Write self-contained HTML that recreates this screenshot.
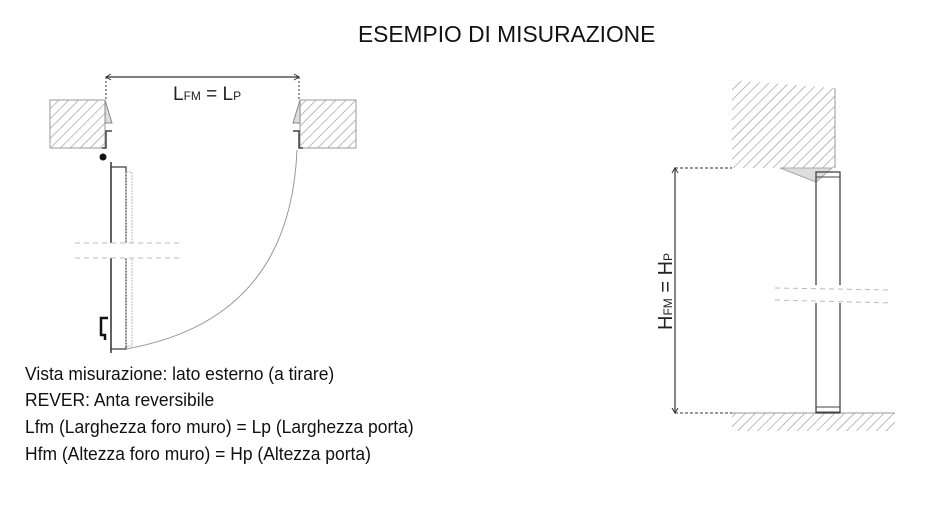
<!DOCTYPE html>
<html><head><meta charset="utf-8"><style>
body{margin:0;background:#fff;width:928px;height:511px;overflow:hidden;font-family:"Liberation Sans",sans-serif}
.t{position:absolute;white-space:nowrap;transform-origin:0 0;color:#111}
</style></head><body>
<svg width="928" height="511" style="position:absolute;left:0;top:0">
<defs>
<pattern id="h" width="7" height="7" patternUnits="userSpaceOnUse" patternTransform="rotate(45)">
<line x1="0" y1="0" x2="0" y2="7" stroke="#999" stroke-width="1.3"/></pattern>
</defs>
<rect x="50" y="100" width="55" height="48" fill="url(#h)" stroke="#999"/>
<rect x="300" y="100" width="56" height="48" fill="url(#h)" stroke="#999"/>
<polygon points="105,100 112,123 105,123" fill="#ddd" stroke="#888"/>
<polygon points="300,100 293,123 300,123" fill="#ddd" stroke="#888"/>
<path d="M112,131 L106,131 L106,148 L102,148" fill="none" stroke="#444" stroke-width="1.5"/>
<path d="M293,131 L299,131 L299,148 L303,148" fill="none" stroke="#444" stroke-width="1.5"/>
<line x1="106" y1="77" x2="299" y2="77" stroke="#333" stroke-width="1.3"/>
<line x1="106" y1="77" x2="106" y2="100" stroke="#333" stroke-dasharray="2,2"/>
<line x1="299" y1="77" x2="299" y2="100" stroke="#333" stroke-dasharray="2,2"/>
<polyline points="111,74 106,77 111,80" fill="none" stroke="#333"/>
<polyline points="294,74 299,77 294,80" fill="none" stroke="#333"/>
<circle cx="103" cy="157" r="3.5" fill="#111"/>
<line x1="111" y1="162" x2="111" y2="353" stroke="#333" stroke-width="1.5"/>
<rect x="111" y="167" width="15" height="182" fill="none" stroke="#444" stroke-width="1.3"/>
<rect x="126" y="172" width="6" height="174" fill="none" stroke="#bbb" stroke-dasharray="2,1"/>
<path d="M108,318 L101,318 L101,335 L105,335 L105,340" fill="none" stroke="#111" stroke-width="2.5"/>
<rect x="75" y="243" width="105" height="15" fill="#fff"/>
<line x1="75" y1="243" x2="180" y2="243" stroke="#bbb" stroke-dasharray="5,4"/>
<line x1="75" y1="258" x2="180" y2="258" stroke="#bbb" stroke-dasharray="5,4"/>
<path d="M297,150 Q290,320 126,349" fill="none" stroke="#999" stroke-width="1"/>
<path d="M732,80 L835,88 L835,168 L732,168 Z" fill="url(#h)"/>
<line x1="835" y1="88" x2="835" y2="168" stroke="#999"/>
<polygon points="780,168 832,168 816,182" fill="#ddd" stroke="#aaa"/>
<rect x="732" y="413" width="163" height="18" fill="url(#h)"/>
<line x1="732" y1="413" x2="895" y2="413" stroke="#999"/>
<rect x="816" y="172" width="24" height="241" fill="none" stroke="#444" stroke-width="1.3"/>
<rect x="816" y="172" width="24" height="5" fill="none" stroke="#444"/>
<rect x="816" y="407" width="24" height="5" fill="none" stroke="#444"/>
<rect x="770" y="285" width="120" height="18" fill="#fff"/>
<line x1="775" y1="288" x2="892" y2="290" stroke="#bbb" stroke-dasharray="5,4"/>
<line x1="775" y1="300" x2="892" y2="303" stroke="#bbb" stroke-dasharray="5,4"/>
<line x1="675" y1="168" x2="675" y2="413" stroke="#333" stroke-width="1.2"/>
<line x1="675" y1="168" x2="732" y2="168" stroke="#333" stroke-dasharray="3,2"/>
<line x1="675" y1="413" x2="732" y2="413" stroke="#333" stroke-dasharray="3,2"/>
<polyline points="672,173 675,168 678,173" fill="none" stroke="#333"/>
<polyline points="672,408 675,413 678,408" fill="none" stroke="#333"/>
<text transform="translate(672,330) rotate(-90)" font-family="Liberation Sans" font-size="20" fill="#222">H<tspan font-size="12">FM</tspan> = H<tspan font-size="12">P</tspan></text>
<text x="173" y="100" font-family="Liberation Sans" font-size="19" fill="#222">L<tspan font-size="12">FM</tspan> = L<tspan font-size="12">P</tspan></text>
</svg>
<div class="t" style="left:358px;top:21px;font-size:23px;transform:scaleX(0.99)">ESEMPIO DI MISURAZIONE</div>
<div class="t" style="left:25px;top:364px;font-size:18px;transform:scaleX(0.97)">Vista misurazione: lato esterno (a tirare)</div>
<div class="t" style="left:25px;top:390px;font-size:18px;transform:scaleX(0.97)">REVER: Anta reversibile</div>
<div class="t" style="left:25px;top:417px;font-size:18px;transform:scaleX(0.97)">Lfm (Larghezza foro muro) = Lp (Larghezza porta)</div>
<div class="t" style="left:25px;top:444px;font-size:18px;transform:scaleX(0.97)">Hfm (Altezza foro muro) = Hp (Altezza porta)</div>
</body></html>
